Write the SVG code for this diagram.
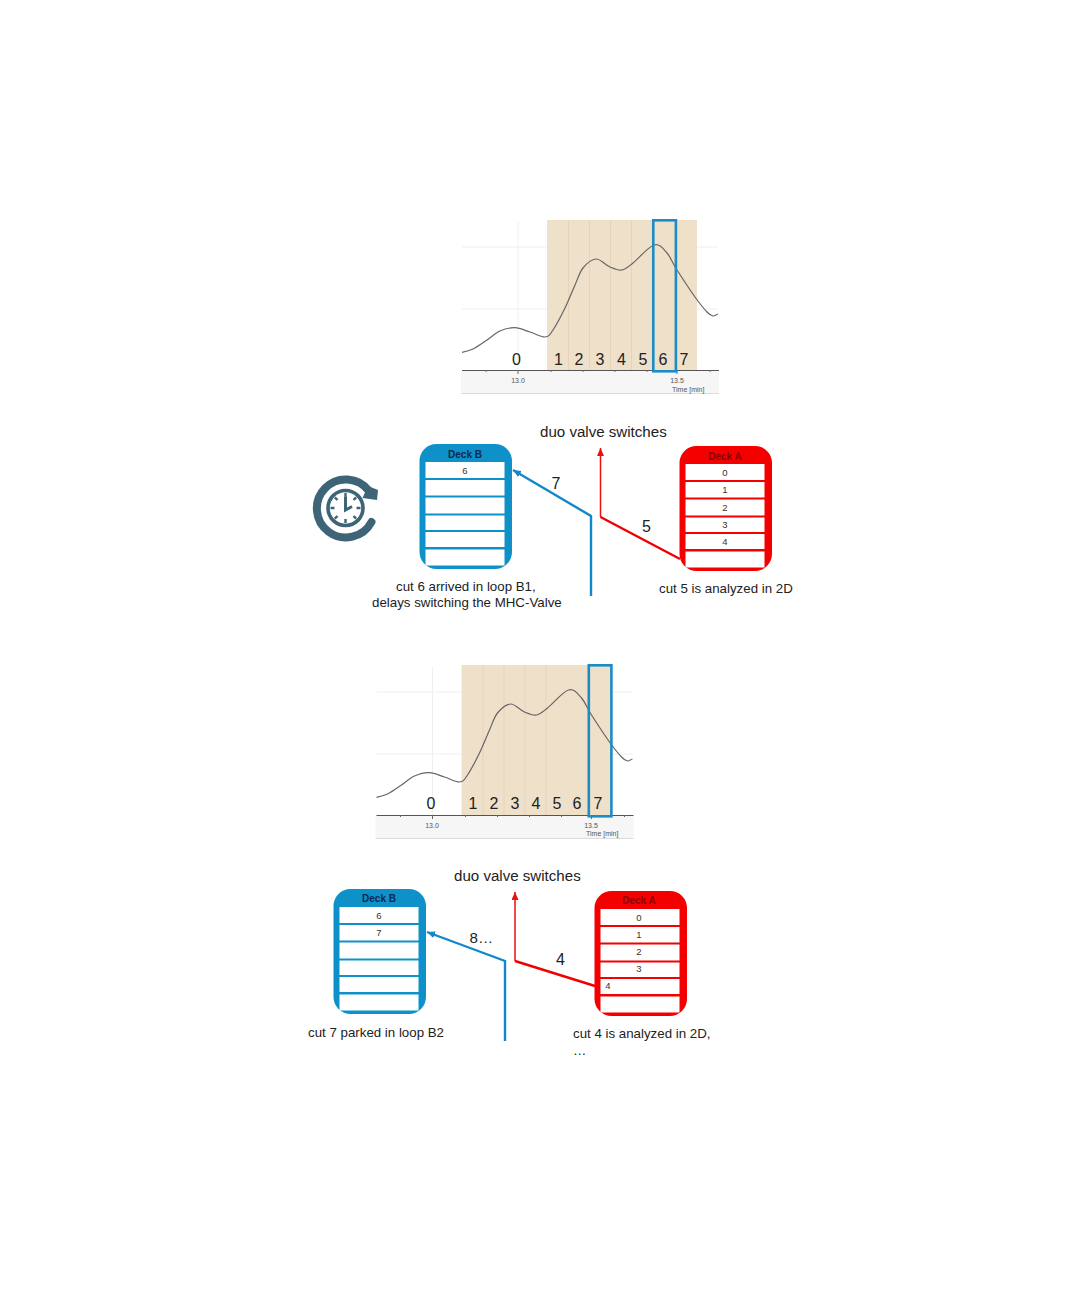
<svg xmlns="http://www.w3.org/2000/svg" width="1080" height="1296" viewBox="0 0 1080 1296">
<style>
text{font-family:"Liberation Sans",Arial,sans-serif;fill:#222}
.cap{font-size:13.300px}
.big{font-size:15.100px}
.num{font-size:16px;text-anchor:middle}
.ax{font-size:7px;fill:#555}
.axm{font-size:7px;fill:#555;text-anchor:middle}
.cell{font-size:9.500px;text-anchor:middle;fill:#333}
.title{font-size:10px;font-weight:bold;text-anchor:middle}
.titleb{fill:#0a2a50}
.titlea{fill:#8c0000}
.hl{fill:none;stroke:#1b8cc6;stroke-width:2.6}
.blue{fill:none;stroke:#1288cc;stroke-width:2.4;stroke-linejoin:miter}
.red{fill:none;stroke:#f00000;stroke-width:2.4;stroke-linejoin:miter}
.redthin{fill:none;stroke:#e81010;stroke-width:1.5}
.row{fill:#fff}
.bframe{fill:#0e90c8}
.aframe{fill:#f50000}
</style>
<defs>
<marker id="ab" markerUnits="userSpaceOnUse" markerWidth="9" markerHeight="8" refX="8" refY="3.500" orient="auto"><path d="M0 0L8 3.500L0 7z" fill="#1288cc"/></marker>
<marker id="ar" markerUnits="userSpaceOnUse" markerWidth="9" markerHeight="8" refX="8" refY="3.500" orient="auto"><path d="M0 0L8 3.500L0 7z" fill="#e81010"/></marker>
<g id="chartBase">
<rect x="461" y="371" width="258" height="22" fill="#f6f6f6"/>
<path d="M461 393.500H719" stroke="#dcdcdc" fill="none"/>
<path d="M462 247H718M462 309H718M518 222V370" stroke="#efefef" fill="none"/>
<rect x="547" y="220" width="150" height="150" fill="#eee0c9"/>
<path d="M568.500 220V370M589.500 220V370M610.500 220V370M631.500 220V370" stroke="#e5d4b9" fill="none"/>
<path d="M462 370.500H719" stroke="#555" fill="none"/>
<path d="M518 370V374M486 370V372M551 370V372M583 370V372M615 370V372M647 370V372M677 370V374M710 370V372" stroke="#666" fill="none"/>
<path d="M462 352.300S468.800 351 473 349S482.500 343 487 340S495.300 333 500 331S510 327.500 515 327.700S525 330.500 530 332S541 337.300 545 337S549.700 334.800 553 330S561.300 315.500 565 308S572 291.700 575 285S579.500 272.300 583 268S591.500 259.200 596 259S605.700 265.200 610 267S618.200 270.700 622 270S627.700 267.200 633 263S648.300 246.700 654 245S663.200 248.800 667 253S672.300 262.700 677 270S690 290 695 297S704 308.800 707 312S711.200 315.700 713 316S716 314.500 718 314" fill="none" stroke="#666" stroke-width="1.200"/>
</g>
<g id="deckRows">
<rect x="425.500" y="462" width="79" height="16" class="row"/>
<rect x="425.500" y="480" width="79" height="15.500" class="row"/>
<rect x="425.500" y="497.500" width="79" height="16" class="row"/>
<rect x="425.500" y="515.500" width="79" height="14.500" class="row"/>
<rect x="425.500" y="532" width="79" height="15" class="row"/>
<rect x="425.500" y="549.500" width="79" height="16" class="row"/>
</g>
</defs>

<g id="chart-top">
<use href="#chartBase"/>
<rect x="653.300" y="220.300" width="22.600" height="151" class="hl"/>
<text x="516.500" y="365" class="num">0</text>
<text x="558.500" y="365" class="num">1</text>
<text x="579" y="365" class="num">2</text>
<text x="600" y="365" class="num">3</text>
<text x="621.500" y="365" class="num">4</text>
<text x="643" y="365" class="num">5</text>
<text x="663" y="365" class="num">6</text>
<text x="684" y="365" class="num">7</text>
<text x="518" y="383" class="axm">13.0</text>
<text x="677" y="383" class="axm">13.5</text>
<text x="672" y="392" class="ax">Time [min]</text>
</g>

<g id="chart-bottom">
<use href="#chartBase" transform="translate(-85.500 445)"/>
<rect x="588.800" y="665.300" width="22.600" height="151" class="hl"/>
<text x="431" y="809" class="num">0</text>
<text x="473" y="809" class="num">1</text>
<text x="494" y="809" class="num">2</text>
<text x="515" y="809" class="num">3</text>
<text x="536" y="809" class="num">4</text>
<text x="557" y="809" class="num">5</text>
<text x="577" y="809" class="num">6</text>
<text x="598" y="809" class="num">7</text>
<text x="432" y="828" class="axm">13.0</text>
<text x="591" y="828" class="axm">13.5</text>
<text x="586" y="836" class="ax">Time [min]</text>
</g>

<g id="clock">
<path d="M371.500 522A29 29 0 1 1 369 491" fill="none" stroke="#3e6478" stroke-width="8" stroke-linecap="round"/>
<path d="M378 490L377 500L362.500 498L368 486z" fill="#3e6478"/>
<circle cx="345.500" cy="508" r="17.500" fill="none" stroke="#3e6478" stroke-width="3.600"/>
<path d="M345.500 493V497M345.500 519V523M330.500 508H334.500M356.500 508H360.500M334.800 497.300L337.500 500M356.200 497.300L353.500 500M334.800 518.700L337.500 516M356.200 518.700L353.500 516" stroke="#3e6478" stroke-width="2.400" fill="none"/>
<path d="M345.500 497V510L352 506.500" stroke="#3e6478" stroke-width="3" fill="none"/>
</g>

<g id="connectors">
<path d="M591 596V516L513 470" class="blue" marker-end="url(#ab)"/>
<path d="M680 559L600.500 517" class="red"/>
<path d="M600.500 517V448" class="redthin" marker-end="url(#ar)"/>
<path d="M505 1041V961L427 932" class="blue" marker-end="url(#ab)"/>
<path d="M595 986L515 961" class="red"/>
<path d="M515 961V892" class="redthin" marker-end="url(#ar)"/>
</g>

<g id="deck-b-top">
<rect x="419.500" y="444" width="92.500" height="125" rx="17" class="bframe"/>
<use href="#deckRows"/>
<text x="465" y="458" class="title titleb">Deck B</text>
<text x="465" y="473.500" class="cell">6</text>
</g>
<g id="deck-a-top">
<rect x="679.500" y="446" width="92.500" height="125" rx="17" class="aframe"/>
<use href="#deckRows" transform="translate(260 2)"/>
<text x="725" y="460" class="title titlea">Deck A</text>
<text x="725" y="475.500" class="cell">0</text>
<text x="725" y="493" class="cell">1</text>
<text x="725" y="510.500" class="cell">2</text>
<text x="725" y="527.500" class="cell">3</text>
<text x="725" y="545" class="cell">4</text>
</g>
<g id="deck-b-bottom">
<rect x="333.500" y="889" width="92.500" height="125" rx="17" class="bframe"/>
<use href="#deckRows" transform="translate(-86 445)"/>
<text x="379" y="902" class="title titleb">Deck B</text>
<text x="379" y="918.500" class="cell">6</text>
<text x="379" y="935.500" class="cell">7</text>
</g>
<g id="deck-a-bottom">
<rect x="594.500" y="891" width="92.500" height="125" rx="17" class="aframe"/>
<use href="#deckRows" transform="translate(175 447)"/>
<text x="639" y="904" class="title titlea">Deck A</text>
<text x="639" y="920.500" class="cell">0</text>
<text x="639" y="937.500" class="cell">1</text>
<text x="639" y="954.500" class="cell">2</text>
<text x="639" y="971.500" class="cell">3</text>
<text x="608" y="989" class="cell">4</text>
</g>

<g id="labels">
<text x="540" y="437" class="big">duo valve switches</text>
<text x="556" y="489" class="num">7</text>
<text x="646.500" y="532" class="num">5</text>
<text x="396" y="591" class="cap">cut 6 arrived in loop B1,</text>
<text x="372" y="607" class="cap">delays switching the MHC-Valve</text>
<text x="659" y="593" class="cap">cut 5 is analyzed in 2D</text>
<text x="454" y="881" class="big">duo valve switches</text>
<text x="469.500" y="943" class="big">8…</text>
<text x="560.500" y="965" class="num">4</text>
<text x="308" y="1037" class="cap">cut 7 parked in loop B2</text>
<text x="573" y="1038" class="cap">cut 4 is analyzed in 2D,</text>
<text x="573" y="1055" class="cap">…</text>
</g>
</svg>
